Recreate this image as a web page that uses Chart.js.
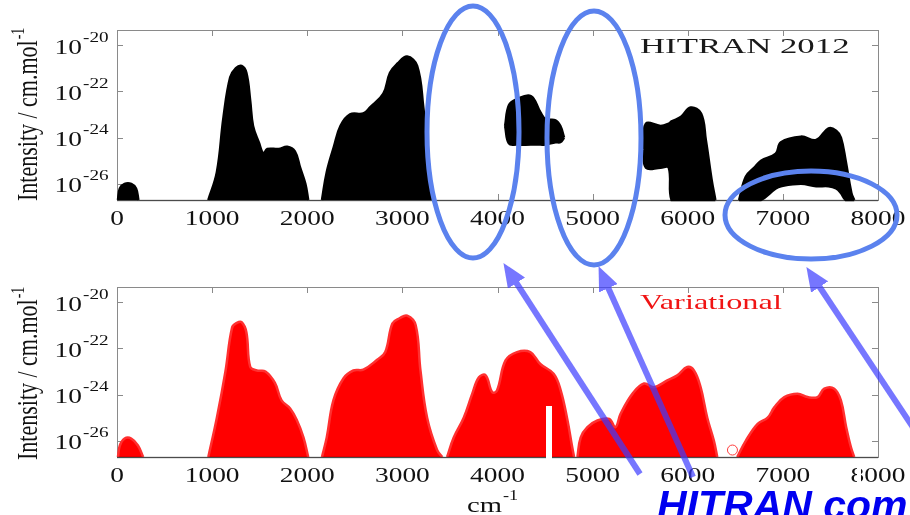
<!DOCTYPE html>
<html lang="en">
<head>
<meta charset="UTF-8">
<title>HITRAN 2012 vs Variational line intensities</title>
<script src="https://cdn.jsdelivr.net/npm/chart.js"></script>
<style>
    body { margin: 0; background: #fff; }
    #wrap { position: relative; width: 910px; height: 515px; overflow: hidden; }
    canvas { position: absolute; left: 0; }
    #topChart { top: 0; }
    #bottomChart { top: 250px; }
    #marks { position: absolute; left: 0; top: 0; pointer-events: none; }
</style>
</head>
<body>
<div id="wrap">
    <canvas id="topChart" width="910" height="250"></canvas>
    <canvas id="bottomChart" width="910" height="265"></canvas>
    <svg id="marks" width="910" height="515" viewBox="0 0 910 515">
        <defs>
            <marker id="head" markerWidth="4" markerHeight="3.4" refX="2.6" refY="1.7" orient="auto" markerUnits="strokeWidth">
                <path d="M0,0 L4,1.7 L0,3.4 Z" fill="#3c3cff"/>
            </marker>
        </defs>
        <!-- white cut-outs from the slide -->
        <rect x="546" y="406" width="6" height="56" fill="#fff"/>
        <rect x="857" y="466" width="4" height="20" fill="#fff"/>
        <!-- circled gaps in HITRAN -->
        <g fill="none" stroke="#5b82ee" stroke-width="5">
            <ellipse cx="473" cy="132" rx="46" ry="126"/>
            <ellipse cx="594" cy="138" rx="47" ry="127"/>
            <ellipse cx="811" cy="215" rx="86" ry="44"/>
        </g>
        <g opacity="0.7" stroke="#3c3cff" stroke-width="6" marker-end="url(#head)">
            <line x1="640" y1="474" x2="508" y2="270"/>
            <line x1="693" y1="477" x2="602" y2="274"/>
            <line x1="930" y1="453" x2="811" y2="274"/>
        </g>
        <text x="657" y="519" font-family="Liberation Sans" font-weight="bold" font-style="italic" font-size="41" fill="#0000f0">HITRAN com</text>
    </svg>
</div>
<script>
// axis ranges and ticks
const yMin = 2.0e-27, yMax = 4.5e-20;
const yTicks = [1e-26, 1e-24, 1e-22, 1e-20];
const yTickExp = ['-26', '-24', '-22', '-20'];
const xTicks = [0, 1000, 2000, 3000, 4000, 5000, 6000, 7000, 8000];

// HITRAN 2012 bands (wavenumber cm-1, upper / lower envelope intensity)
const hit0Wn = [10, 30, 80, 150, 200, 225];
const hit0Hi = [2.0e-27, 6.3e-27, 1.0e-26, 1.0e-26, 6.3e-27, 2.0e-27];
const hit1Wn = [960, 1050, 1120, 1190, 1250, 1310, 1360, 1400, 1430, 1490, 1540, 1580, 1700, 1790, 1870, 1925, 1980, 2010];
const hit1Hi = [2.0e-27, 3.2e-26, 7.9e-24, 4.0e-22, 1.0e-21, 1.26e-21, 6.3e-22, 4.0e-23, 3.2e-24, 6.3e-25, 2.0e-25, 3.2e-25, 3.2e-25, 4.0e-25, 2.5e-25, 5.0e-26, 1.0e-26, 2.0e-27];
const hit2Wn = [2155, 2205, 2280, 2350, 2450, 2590, 2660, 2800, 2870, 2950, 3050, 3155, 3220, 3270, 3320];
const hit2Hi = [2.0e-27, 3.2e-26, 4.0e-25, 3.2e-24, 1.0e-23, 1.1e-23, 2.0e-23, 7.9e-23, 6.3e-22, 1.6e-21, 3.2e-21, 1.26e-21, 2.0e-23, 1.6e-25, 2.0e-27];
const hit3Wn = [4080, 4120, 4200, 4350, 4450, 4505, 4610, 4660, 4700];
const hit3Hi = [3.2e-24, 2.5e-23, 4.5e-23, 6.3e-23, 1.26e-23, 6.3e-24, 5.6e-24, 3.2e-24, 1.0e-24];
const hit3Lo = [3.2e-24, 5.6e-25, 5.0e-25, 5.0e-25, 5.0e-25, 5.0e-25, 6.3e-25, 6.3e-25, 1.0e-24];
const hit4Wn = [5540, 5560, 5715, 5800, 5830, 5930, 6030, 6140, 6190, 6250, 6290];
const hit4Hi = [3.2e-25, 4.0e-24, 3.2e-24, 4.0e-24, 5.0e-24, 7.9e-24, 2.0e-23, 1.1e-23, 7.9e-25, 1.6e-26, 2.0e-27];
const hit4Lo = [3.2e-25, 5.0e-26, 5.0e-26, 5.0e-26, 2.0e-27, 2.0e-27, 2.0e-27, 2.0e-27, 2.0e-27, 2.0e-27, 2.0e-27];
const hit5Wn = [6540, 6610, 6700, 6770, 6925, 6980, 7190, 7350, 7480, 7560, 7610, 7660, 7720, 7750];
const hit5Hi = [2.0e-27, 2.0e-26, 5.0e-26, 1.0e-25, 2.0e-25, 6.3e-25, 1.1e-24, 7.9e-25, 2.5e-24, 2.0e-24, 1.0e-24, 1.0e-25, 4.0e-27, 2.0e-27];
const hit5Lo = [2.0e-27, 2.0e-27, 2.0e-27, 2.0e-27, 6.3e-27, 7.9e-27, 1.0e-26, 7.9e-27, 7.9e-27, 6.3e-27, 4.0e-27, 2.0e-27, 2.0e-27, 2.0e-27];

// Variational bands (upper envelope intensity)
const var0Wn = [10, 30, 80, 150, 220, 275];
const var0Hi = [2.0e-27, 6.3e-27, 1.26e-26, 1.26e-26, 6.3e-27, 2.0e-27];
const var1Wn = [960, 1050, 1140, 1210, 1260, 1310, 1360, 1400, 1470, 1560, 1660, 1730, 1820, 1890, 1960, 2010];
const var1Hi = [2.0e-27, 1.0e-25, 1.0e-23, 7.9e-22, 1.26e-21, 1.35e-21, 5.0e-22, 1.6e-23, 1.1e-23, 1.0e-23, 3.2e-24, 5.6e-25, 2.5e-25, 7.9e-26, 1.4e-26, 2.0e-27];
const var2Wn = [2155, 2205, 2275, 2380, 2485, 2590, 2735, 2820, 2895, 2970, 3050, 3140, 3190, 3260, 3365, 3420];
const var2Hi = [2.0e-27, 1.4e-26, 5.6e-25, 5.0e-24, 1.1e-23, 1.2e-23, 3.2e-23, 6.9e-23, 1.2e-21, 2.0e-21, 2.6e-21, 1.0e-21, 1.1e-23, 1.0e-25, 4.0e-27, 2.0e-27];
const var3Wn = [3470, 3540, 3645, 3735, 3805, 3875, 3945, 3995, 4085, 4205, 4345, 4450, 4590, 4665, 4735, 4785, 4805];
const var3Hi = [2.0e-27, 1.4e-26, 1.0e-25, 1.1e-24, 5.6e-24, 6.8e-24, 1.26e-24, 1.5e-24, 3.0e-23, 6.9e-23, 6.9e-23, 2.1e-23, 7.9e-24, 1.5e-24, 7.9e-26, 5.4e-27, 2.0e-27];
const var4Wn = [4840, 4875, 4945, 5050, 5175, 5240, 5295, 5420, 5540, 5645, 5785, 5890, 5995, 6065, 6135, 6205, 6275, 6310];
const var4Hi = [2.0e-27, 1.4e-26, 3.9e-26, 7.6e-26, 8.9e-26, 3.9e-26, 1.5e-25, 1.1e-24, 3.0e-24, 2.1e-24, 4.1e-24, 6.8e-24, 1.55e-23, 1.1e-23, 2.1e-24, 1.0e-25, 1.0e-26, 2.0e-27];
const var5Wn = [6520, 6610, 6735, 6840, 6910, 7015, 7155, 7260, 7365, 7435, 7540, 7610, 7665, 7715, 7750];
const var5Hi = [2.0e-27, 1.0e-26, 5.4e-26, 1.0e-25, 2.8e-25, 7.8e-25, 1.1e-24, 7.8e-25, 7.8e-25, 1.8e-24, 1.8e-24, 5.6e-25, 4.0e-26, 5.4e-27, 2.0e-27];
const varStrayWn = [6470];
const varStrayInt = [4.0e-27];

const SERIF = '"Liberation Serif", "DejaVu Serif", serif';

function pts(wn, val) {
    return wn.map((w, i) => ({ x: w, y: val[i] }));
}

function band(wn, val, style, fill) {
    return {
        data: pts(wn, val),
        borderColor: style.line,
        borderWidth: 2.5,
        backgroundColor: style.fill,
        fill: fill,
        pointRadius: 0,
        tension: 0.4,
        clip: { left: 4, right: 4, top: 4, bottom: 2 }
    };
}

// text widened, as in the original figure
function wideText(ctx, text, x, y, size, sx, align) {
    ctx.save();
    ctx.font = size + 'px ' + SERIF;
    ctx.textAlign = 'left';
    ctx.textBaseline = 'alphabetic';
    const w = ctx.measureText(text).width * sx;
    const left = align === 'center' ? x - w / 2 : align === 'right' ? x - w : x;
    ctx.translate(left, y);
    ctx.scale(sx, 1);
    ctx.fillText(text, 0, 0);
    ctx.restore();
    return w;
}

const framePlugin = {
    id: 'frame',
    beforeDatasetsDraw(chart) {
        const { ctx, chartArea: a, scales: { x, y } } = chart;
        ctx.save();
        ctx.strokeStyle = '#8a8a8a';
        ctx.lineWidth = 1;
        ctx.strokeRect(Math.round(a.left) + 0.5, Math.round(a.top) + 0.5,
            Math.round(a.right - a.left), Math.round(a.bottom - a.top));
        ctx.beginPath();
        xTicks.slice(1, -1).forEach(v => {
            const px = Math.round(x.getPixelForValue(v)) + 0.5;
            ctx.moveTo(px, a.top); ctx.lineTo(px, a.top + 6);
            ctx.moveTo(px, a.bottom); ctx.lineTo(px, a.bottom - 6);
        });
        yTicks.forEach(v => {
            const py = Math.round(y.getPixelForValue(v)) + 0.5;
            ctx.moveTo(a.left, py); ctx.lineTo(a.left + 6, py);
            ctx.moveTo(a.right, py); ctx.lineTo(a.right - 6, py);
        });
        ctx.stroke();
        ctx.restore();
    },
    afterDatasetsDraw(chart) {
        // bottom axis line shows through the data (darkened over the fill)
        const { ctx, chartArea: a } = chart;
        ctx.save();
        ctx.globalCompositeOperation = 'multiply';
        ctx.strokeStyle = '#8a8a8a';
        ctx.lineWidth = 1.5;
        ctx.beginPath();
        ctx.moveTo(a.left, Math.round(a.bottom) + 0.5);
        ctx.lineTo(a.right, Math.round(a.bottom) + 0.5);
        ctx.stroke();
        ctx.restore();
    },
    afterDraw(chart, args, opts) {
        const { ctx, chartArea: a, scales: { x, y } } = chart;
        ctx.save();
        ctx.fillStyle = '#111';
        xTicks.forEach(v => wideText(ctx, String(v), x.getPixelForValue(v), a.bottom + 25, 20, 1.37, 'center'));
        yTicks.forEach((v, i) => {
            const py = y.getPixelForValue(v);
            wideText(ctx, '10', 82, py + 8.5, 20, 1.37, 'right');
            wideText(ctx, yTickExp[i], 83, py - 3.5, 14, 1.37, 'left');
        });
        // y axis title, glyphs thickened sideways like the other labels
        ctx.save();
        ctx.translate(37, a.bottom + opts.titleShift);
        ctx.rotate(-Math.PI / 2);
        ctx.scale(1, 1.3);
        ctx.font = '22px ' + SERIF;
        ctx.textBaseline = 'alphabetic';
        ctx.fillText('Intensity / cm.mol', 0, 0);
        const tw = ctx.measureText('Intensity / cm.mol').width;
        ctx.font = '14px ' + SERIF;
        ctx.fillText('-1', tw + 1, -10);
        ctx.restore();
        // panel label
        ctx.fillStyle = opts.labelColor;
        wideText(ctx, opts.label, 640, a.top + opts.labelDy, 22, opts.labelSx, 'left');
        if (opts.xTitle) {
            ctx.fillStyle = '#111';
            const w = wideText(ctx, 'cm', 467, a.bottom + 55, 22, 1.3, 'left');
            wideText(ctx, '-1', 467 + w + 1, a.bottom + 43, 14, 1.3, 'left');
        }
        ctx.restore();
    }
};

function makeChart(id, datasets, pad, opts) {
    return new Chart(document.getElementById(id), {
        type: 'line',
        data: { datasets: datasets },
        options: {
            responsive: false,
            animation: false,
            devicePixelRatio: 1,
            layout: { padding: pad },
            plugins: { legend: { display: false }, tooltip: { enabled: false }, frame: opts },
            scales: {
                x: { type: 'linear', min: 0, max: 8000, display: false },
                y: { type: 'logarithmic', min: yMin, max: yMax, display: false }
            }
        },
        plugins: [framePlugin]
    });
}

const black = { line: '#000', fill: '#000' };
const red = { line: '#ff3030', fill: '#ff0000' };

makeChart('topChart', [
    band(hit0Wn, hit0Hi, black, 'start'),
    band(hit1Wn, hit1Hi, black, 'start'),
    band(hit2Wn, hit2Hi, black, 'start'),
    band(hit3Wn, hit3Lo, black, false),
    band(hit3Wn, hit3Hi, black, '-1'),
    band(hit4Wn, hit4Lo, black, false),
    band(hit4Wn, hit4Hi, black, '-1'),
    band(hit5Wn, hit5Lo, black, false),
    band(hit5Wn, hit5Hi, black, '-1')
], { left: 117, right: 32, top: 30, bottom: 50 },
   { label: 'HITRAN 2012', labelColor: '#1a1a1a', labelDy: 23, labelSx: 1.58, titleShift: 1, xTitle: false });

makeChart('bottomChart', [
    band(var0Wn, var0Hi, red, 'start'),
    band(var1Wn, var1Hi, red, 'start'),
    band(var2Wn, var2Hi, red, 'start'),
    band(var3Wn, var3Hi, red, 'start'),
    band(var4Wn, var4Hi, red, 'start'),
    band(var5Wn, var5Hi, red, 'start'),
    Object.assign(band(varStrayWn, varStrayInt, red, false), {
        showLine: false, pointRadius: 5, pointBorderColor: '#ff3b3b',
        pointBackgroundColor: 'rgba(0,0,0,0)', pointBorderWidth: 1
    })
], { left: 117, right: 32, top: 37, bottom: 58 },
   { label: 'Variational', labelColor: '#f01414', labelDy: 22, labelSx: 1.47, titleShift: 3, xTitle: true });
</script>
</body>
</html>
